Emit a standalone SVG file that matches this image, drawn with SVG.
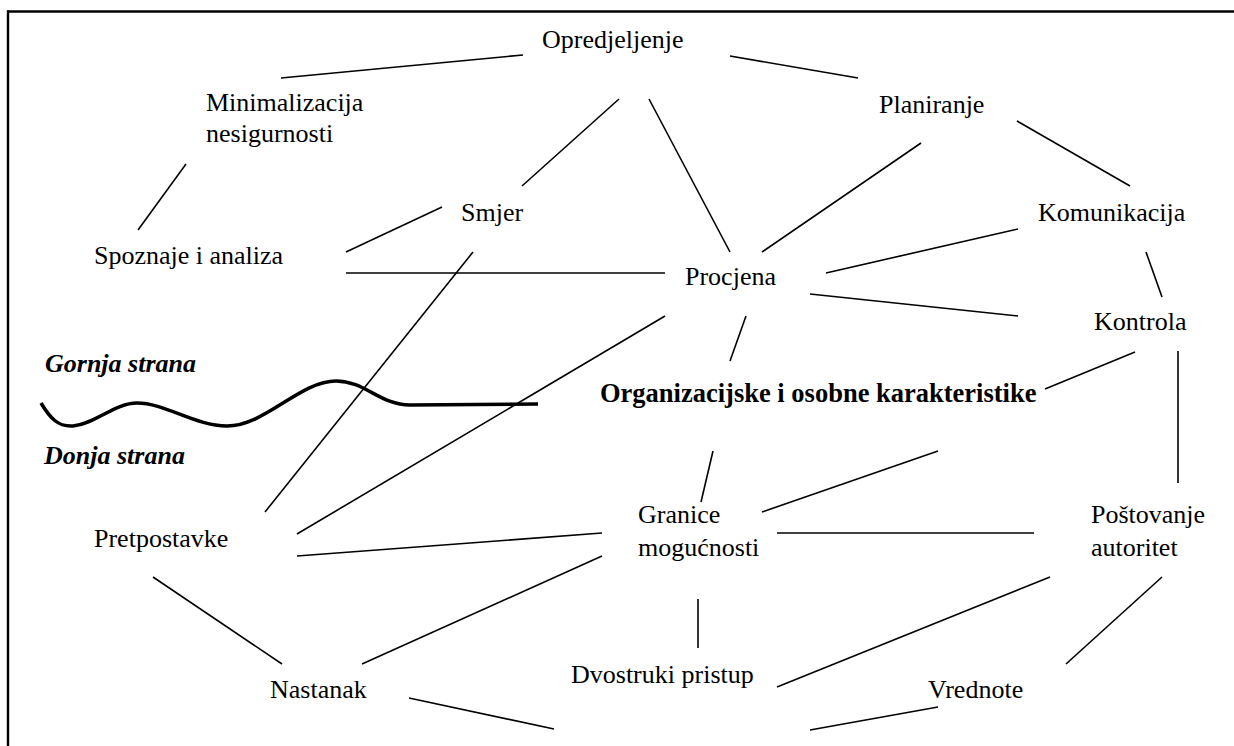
<svg xmlns="http://www.w3.org/2000/svg" width="1234" height="746" viewBox="0 0 1234 746">
<style>
.t{font-family:"Liberation Serif","Times New Roman",serif;font-size:26px;fill:#000}
.b{font-weight:bold}
.bi{font-weight:bold;font-style:italic}
.c line{stroke:#000;stroke-width:1.6;stroke-linecap:butt}
.frame{stroke:#000;stroke-width:2.4;fill:none}
</style>
<rect width="1234" height="746" fill="#fff"/>
<g id="frame">
<line class="frame" x1="7" y1="11.5" x2="1234" y2="11.5"/>
<line class="frame" x1="8" y1="10.5" x2="8" y2="746"/>
</g>
<g id="connectors" class="c">
<line x1="281" y1="78" x2="523" y2="55"/>
<line x1="730" y1="56" x2="858" y2="78"/>
<line x1="186" y1="164" x2="138" y2="230"/>
<line x1="619" y1="99" x2="522" y2="186"/>
<line x1="649" y1="99" x2="730" y2="252"/>
<line x1="921" y1="143" x2="762" y2="252"/>
<line x1="1017" y1="121" x2="1130" y2="186"/>
<line x1="442" y1="207" x2="346" y2="252"/>
<line x1="346" y1="273" x2="665" y2="273"/>
<line x1="473" y1="252" x2="265" y2="512"/>
<line x1="1018" y1="229" x2="826" y2="273"/>
<line x1="1146" y1="252" x2="1162" y2="297"/>
<line x1="810" y1="294" x2="1018" y2="316"/>
<line x1="746" y1="316" x2="730" y2="361"/>
<line x1="665" y1="316" x2="297" y2="534"/>
<line x1="1135" y1="352" x2="1045" y2="389"/>
<line x1="1178" y1="351" x2="1178" y2="483"/>
<line x1="713" y1="451" x2="701" y2="502"/>
<line x1="938" y1="451" x2="762" y2="512"/>
<line x1="777" y1="533" x2="1034" y2="533"/>
<line x1="297" y1="556" x2="602" y2="533"/>
<line x1="602" y1="556" x2="362" y2="664"/>
<line x1="153" y1="577" x2="282" y2="664"/>
<line x1="698" y1="599" x2="698" y2="648"/>
<line x1="1050" y1="577" x2="777" y2="687"/>
<line x1="1162" y1="577" x2="1066" y2="664"/>
<line x1="409" y1="698" x2="554" y2="729"/>
<line x1="938" y1="707" x2="810" y2="730"/>
</g>
<g id="divider">
<path d="M41,403 C50,418 58,427 73,426 C95,424 115,403 137,403 C165,403 195,426 227,426 C265,426 300,381 336,381 C365,381 380,405 410,405 L538,404" fill="none" stroke="#000" stroke-width="3.5"/>
<text class="t bi" x="45" y="372">Gornja strana</text>
<text class="t bi" x="44" y="464">Donja strana</text>
</g>
<g id="n-opredjeljenje"><text class="t" x="542" y="48">Opredjeljenje</text></g>
<g id="n-minimalizacija"><text class="t" x="206" y="111">Minimalizacija</text><text class="t" x="206" y="142">nesigurnosti</text></g>
<g id="n-planiranje"><text class="t" x="879" y="113">Planiranje</text></g>
<g id="n-smjer"><text class="t" x="461" y="221">Smjer</text></g>
<g id="n-komunikacija"><text class="t" x="1038" y="221">Komunikacija</text></g>
<g id="n-spoznaje"><text class="t" x="94" y="264">Spoznaje i analiza</text></g>
<g id="n-procjena"><text class="t" x="685" y="285">Procjena</text></g>
<g id="n-kontrola"><text class="t" x="1094" y="330">Kontrola</text></g>
<g id="n-organizacijske"><text class="t b" x="600" y="402" style="font-size:26.5px">Organizacijske i osobne karakteristike</text></g>
<g id="n-granice"><text class="t" x="638" y="523">Granice</text><text class="t" x="638" y="556">mogućnosti</text></g>
<g id="n-postovanje"><text class="t" x="1091" y="523">Poštovanje</text><text class="t" x="1091" y="556">autoritet</text></g>
<g id="n-pretpostavke"><text class="t" x="94" y="547">Pretpostavke</text></g>
<g id="n-dvostruki"><text class="t" x="571" y="683">Dvostruki pristup</text></g>
<g id="n-nastanak"><text class="t" x="270" y="698">Nastanak</text></g>
<g id="n-vrednote"><text class="t" x="928" y="698">Vrednote</text></g>
</svg>
